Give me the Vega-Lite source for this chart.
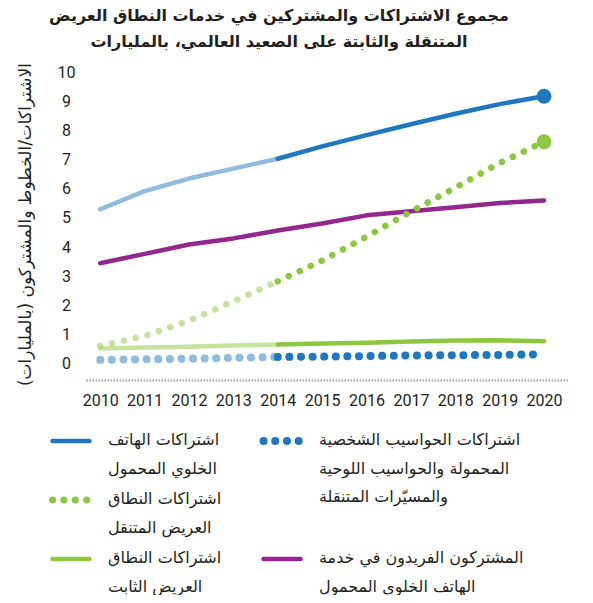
{
  "$schema": "https://vega.github.io/schema/vega-lite/v6.json",
  "padding": {"left": 16, "top": 8, "right": 0, "bottom": 0},
  "background": "white",
  "spacing": 40,
  "bounds": "flush",
  "title": {
    "text": ["مجموع الاشتراكات والمشتركين في خدمات النطاق العريض", "المتنقلة والثابتة على الصعيد العالمي، بالمليارات"],
    "anchor": "middle",
    "frame": "group",
    "dx": -48,
    "offset": 12,
    "font": "DejaVu Sans",
    "fontSize": 16,
    "fontWeight": "bold",
    "lineHeight": 26,
    "color": "#231f20"
  },
  "datasets": {
    "series": [
      {"series": "cell", "year": 2010, "value": 5.30, "phase": "early"},
      {"series": "cell", "year": 2011, "value": 5.92, "phase": "early"},
      {"series": "cell", "year": 2012, "value": 6.35, "phase": "early"},
      {"series": "cell", "year": 2013, "value": 6.69, "phase": "early"},
      {"series": "cell", "year": 2014, "value": 7.03, "phase": "early"},
      {"series": "cell", "year": 2014, "value": 7.03, "phase": "late"},
      {"series": "cell", "year": 2015, "value": 7.45, "phase": "late"},
      {"series": "cell", "year": 2016, "value": 7.84, "phase": "late"},
      {"series": "cell", "year": 2017, "value": 8.21, "phase": "late"},
      {"series": "cell", "year": 2018, "value": 8.57, "phase": "late"},
      {"series": "cell", "year": 2019, "value": 8.90, "phase": "late"},
      {"series": "cell", "year": 2020, "value": 9.17, "phase": "late"},
      {"series": "mbb", "year": 2010, "value": 0.62, "phase": "early"},
      {"series": "mbb", "year": 2011, "value": 0.96, "phase": "early"},
      {"series": "mbb", "year": 2012, "value": 1.48, "phase": "early"},
      {"series": "mbb", "year": 2013, "value": 2.14, "phase": "early"},
      {"series": "mbb", "year": 2014, "value": 2.83, "phase": "early"},
      {"series": "mbb", "year": 2014, "value": 2.83, "phase": "late"},
      {"series": "mbb", "year": 2015, "value": 3.54, "phase": "late"},
      {"series": "mbb", "year": 2016, "value": 4.36, "phase": "late"},
      {"series": "mbb", "year": 2017, "value": 5.22, "phase": "late"},
      {"series": "mbb", "year": 2018, "value": 6.04, "phase": "late"},
      {"series": "mbb", "year": 2019, "value": 6.88, "phase": "late"},
      {"series": "mbb", "year": 2020, "value": 7.61, "phase": "late"},
      {"series": "fixed", "year": 2010, "value": 0.53, "phase": "early"},
      {"series": "fixed", "year": 2011, "value": 0.56, "phase": "early"},
      {"series": "fixed", "year": 2012, "value": 0.59, "phase": "early"},
      {"series": "fixed", "year": 2013, "value": 0.63, "phase": "early"},
      {"series": "fixed", "year": 2014, "value": 0.67, "phase": "early"},
      {"series": "fixed", "year": 2014, "value": 0.67, "phase": "late"},
      {"series": "fixed", "year": 2015, "value": 0.70, "phase": "late"},
      {"series": "fixed", "year": 2016, "value": 0.73, "phase": "late"},
      {"series": "fixed", "year": 2017, "value": 0.77, "phase": "late"},
      {"series": "fixed", "year": 2018, "value": 0.80, "phase": "late"},
      {"series": "fixed", "year": 2019, "value": 0.81, "phase": "late"},
      {"series": "fixed", "year": 2020, "value": 0.78, "phase": "late"},
      {"series": "pc", "year": 2010, "value": 0.14, "phase": "early"},
      {"series": "pc", "year": 2011, "value": 0.16, "phase": "early"},
      {"series": "pc", "year": 2012, "value": 0.18, "phase": "early"},
      {"series": "pc", "year": 2013, "value": 0.21, "phase": "early"},
      {"series": "pc", "year": 2014, "value": 0.24, "phase": "early"},
      {"series": "pc", "year": 2014, "value": 0.24, "phase": "late"},
      {"series": "pc", "year": 2015, "value": 0.25, "phase": "late"},
      {"series": "pc", "year": 2016, "value": 0.27, "phase": "late"},
      {"series": "pc", "year": 2017, "value": 0.29, "phase": "late"},
      {"series": "pc", "year": 2018, "value": 0.30, "phase": "late"},
      {"series": "pc", "year": 2019, "value": 0.31, "phase": "late"},
      {"series": "pc", "year": 2020, "value": 0.33, "phase": "late"},
      {"series": "unique", "year": 2010, "value": 3.45, "phase": "late"},
      {"series": "unique", "year": 2011, "value": 3.77, "phase": "late"},
      {"series": "unique", "year": 2012, "value": 4.09, "phase": "late"},
      {"series": "unique", "year": 2013, "value": 4.30, "phase": "late"},
      {"series": "unique", "year": 2014, "value": 4.57, "phase": "late"},
      {"series": "unique", "year": 2015, "value": 4.81, "phase": "late"},
      {"series": "unique", "year": 2016, "value": 5.09, "phase": "late"},
      {"series": "unique", "year": 2017, "value": 5.23, "phase": "late"},
      {"series": "unique", "year": 2018, "value": 5.37, "phase": "late"},
      {"series": "unique", "year": 2019, "value": 5.51, "phase": "late"},
      {"series": "unique", "year": 2020, "value": 5.60, "phase": "late"}
    ],
    "legend": [
      {"series": "cell", "label": "اشتراكات الهاتف\nالخلوي المحمول"},
      {"series": "pc", "label": "اشتراكات الحواسيب الشخصية\nالمحمولة والحواسيب اللوحية\nوالمسيّرات المتنقلة"},
      {"series": "mbb", "label": "اشتراكات النطاق\nالعريض المتنقل"},
      {"series": "fixed", "label": "اشتراكات النطاق\nالعريض الثابت"},
      {"series": "unique", "label": "المشتركون الفريدون في خدمة\nالهاتف الخلوي المحمول"}
    ]
  },
  "vconcat": [
    {
      "width": 482,
      "height": 308,
      "data": {"name": "series"},
      "encoding": {
        "x": {
          "field": "year", "type": "quantitative",
          "scale": {"domain": [2009.68, 2020.54], "nice": false, "zero": false},
          "axis": {
            "values": [2010, 2011, 2012, 2013, 2014, 2015, 2016, 2017, 2018, 2019, 2020],
            "format": "d", "grid": false, "ticks": false, "domain": true,
            "domainColor": "#9a9a9a", "domainDash": [1.5, 1.5], "domainWidth": 2,
            "labelFont": "Roboto", "labelFontSize": 16, "labelColor": "#231f20",
            "labelPadding": 12, "labelOverlap": false, "labelFlush": false, "title": null
          }
        },
        "y": {
          "field": "value", "type": "quantitative",
          "scale": {"domain": [-0.55, 10], "nice": false, "zero": false},
          "axis": {
            "values": [0, 1, 2, 3, 4, 5, 6, 7, 8, 9, 10],
            "grid": false, "ticks": false, "domain": false,
            "labelAlign": "center", "labelPadding": 20, "labelOverlap": false,
            "labelFont": "Roboto", "labelFontSize": 16, "labelColor": "#231f20",
            "title": "الاشتراكات/الخطوط والمشتركون (بالمليارات)",
            "titleX": -61, "titleY": 152, "titleAlign": "center", "titleBaseline": "middle",
            "titleFont": "DejaVu Sans", "titleFontSize": 17, "titleFontWeight": "normal",
            "titleColor": "#231f20", "titleLimit": 400
          }
        },
        "opacity": {
          "field": "phase", "type": "nominal",
          "scale": {"domain": ["early", "late"], "range": [0.5, 1]},
          "legend": null
        }
      },
      "layer": [
        {
          "transform": [{"filter": "indexof(['cell', 'fixed', 'unique'], datum.series) >= 0"}],
          "mark": {"type": "line", "strokeWidth": 4.5, "strokeCap": "round", "strokeJoin": "round"},
          "encoding": {
            "color": {
              "field": "series", "type": "nominal",
              "scale": {
                "domain": ["cell", "pc", "mbb", "fixed", "unique"],
                "range": ["#1f77bf", "#1f77bf", "#8dc63f", "#8dc63f", "#92278f"]
              },
              "legend": null
            }
          }
        },
        {
          "transform": [{"filter": "datum.series == 'pc'"}],
          "mark": {"type": "line", "color": "#1f77bf", "strokeWidth": 8, "strokeDash": [0.1, 11.5], "strokeCap": "round"}
        },
        {
          "transform": [{"filter": "datum.series == 'mbb'"}],
          "mark": {"type": "line", "color": "#8dc63f", "strokeWidth": 6.5, "strokeDash": [0.1, 12], "strokeCap": "round"}
        },
        {
          "transform": [{"filter": "datum.year == 2020 && datum.series == 'cell'"}],
          "mark": {"type": "circle", "size": 220, "color": "#1f77bf"}
        },
        {
          "transform": [{"filter": "datum.year == 2020 && datum.series == 'mbb'"}],
          "mark": {"type": "circle", "size": 220, "color": "#8dc63f"}
        }
      ]
    },
    {
      "width": 482,
      "height": 160,
      "data": {"name": "legend"},
      "transform": [
        {"calculate": "indexof(['pc', 'unique'], datum.series) >= 0 ? 'c2' : 'c1'", "as": "col"},
        {"calculate": "indexof(['cell', 'pc'], datum.series) >= 0 ? 'r1' : datum.series == 'mbb' ? 'r2' : 'r3'", "as": "row"}
      ],
      "encoding": {
        "x": {"field": "col", "type": "nominal", "scale": {"type": "point", "domain": ["c1", "c2"], "range": [-15, 196], "padding": 0}, "axis": null},
        "y": {"field": "row", "type": "nominal", "scale": {"type": "point", "domain": ["r1", "r2", "r3"], "range": [21, 139], "padding": 0}, "axis": null}
      },
      "layer": [
        {
          "transform": [{"filter": "indexof(['cell', 'fixed', 'unique'], datum.series) >= 0"}],
          "mark": {"type": "point", "shape": "M-1,0L1,0", "size": 1369, "filled": false, "strokeWidth": 4.5, "strokeCap": "round", "opacity": 1},
          "encoding": {
            "color": {"field": "series", "type": "nominal", "legend": null}
          }
        },
        {
          "transform": [{"filter": "datum.series == 'pc'"}],
          "mark": {"type": "point", "shape": "M-1,0L1,0", "size": 1369, "filled": false, "color": "#1f77bf", "strokeWidth": 8, "strokeDash": [0.1, 11.6], "strokeCap": "round", "opacity": 1}
        },
        {
          "transform": [{"filter": "datum.series == 'mbb'"}],
          "mark": {"type": "point", "shape": "M-1,0L1,0", "size": 1369, "filled": false, "color": "#8dc63f", "strokeWidth": 7, "strokeDash": [0.1, 11.3], "strokeCap": "round", "opacity": 1}
        },
        {
          "mark": {"type": "text", "align": "left", "baseline": "alphabetic", "dx": 37, "dy": 4, "lineBreak": "\n", "lineHeight": 28.5, "font": "DejaVu Sans", "fontSize": 16, "color": "#231f20"},
          "encoding": {"text": {"field": "label"}}
        }
      ]
    }
  ],
  "config": {
    "view": {"stroke": null}
  }
}
